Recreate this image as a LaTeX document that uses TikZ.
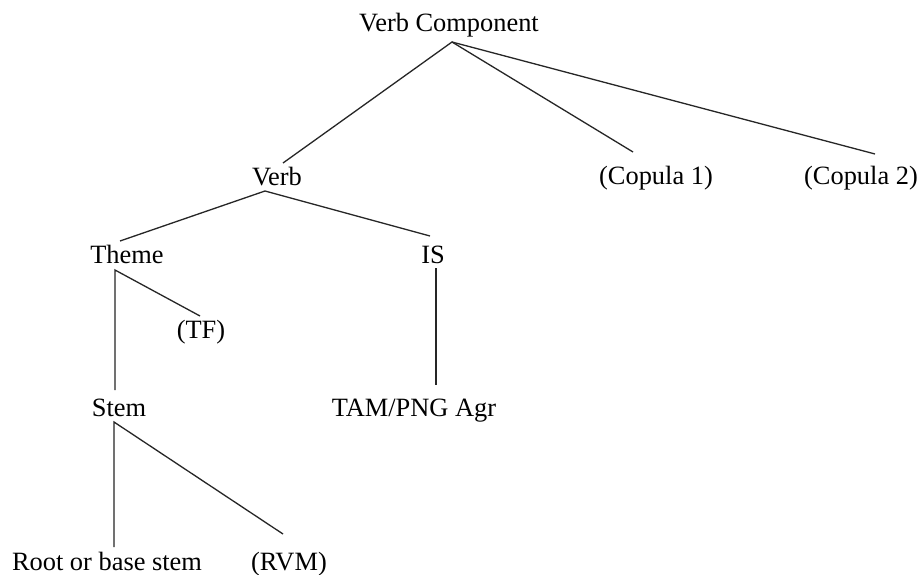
\documentclass[tikz,border=0pt]{standalone}
\usepackage{fontspec}
\setmainfont{Liberation Serif}
\begin{document}
\begin{tikzpicture}[x=1pt,y=-1pt,
  lbl/.style={anchor=base,inner sep=0pt,font=\fontsize{26.4}{30}\selectfont},
  edge/.style={line width=1.3pt,black!85}]
\useasboundingbox[fill=white] (0,0) rectangle (920,575);
% labels
\node[lbl] (vc)   at (449,32)  {Verb Component};
\node[lbl] (verb) at (277,185) {Verb};
\node[lbl] (cop1) at (656,184) {(Copula 1)};
\node[lbl] (cop2) at (861,184) {(Copula 2)};
\node[lbl] (theme) at (127,263) {Theme};
\node[lbl] (is)   at (433,263) {IS};
\node[lbl] (tf)   at (201,338) {(TF)};
\node[lbl] (stem) at (119,416) {Stem};
\node[lbl] (tam)  at (414,416) {TAM/PNG Agr};
\node[lbl] (root) at (107,570) {Root or base stem};
\node[lbl] (rvm)  at (289,570) {(RVM)};
% connector end points
\coordinate (vc-b)    at (452,42);
\coordinate (verb-t)  at (283,163);
\coordinate (cop1-t)  at (633,152);
\coordinate (cop2-t)  at (875,154);
\coordinate (verb-b)  at (265,191);
\coordinate (theme-t) at (120,241);
\coordinate (is-t)    at (430,236);
\coordinate (theme-b) at (115,270);
\coordinate (tf-t)    at (200,316);
\coordinate (stem-t)  at (115,390);
\coordinate (is-b)    at (436,268);
\coordinate (tam-t)   at (436,385);
\coordinate (stem-b)  at (114,422);
\coordinate (root-t)  at (114,547);
\coordinate (rvm-t)   at (283,534);
% connectors
\draw[edge] (verb-t) -- (vc-b) -- (cop1-t);
\draw[edge] (vc-b) -- (cop2-t);
\draw[edge] (theme-t) -- (verb-b) -- (is-t);
\draw[edge] (stem-t) -- (theme-b) -- (tf-t);
\draw[edge] (is-b) -- (tam-t);
\draw[edge] (root-t) -- (stem-b) -- (rvm-t);
\end{tikzpicture}
\end{document}
